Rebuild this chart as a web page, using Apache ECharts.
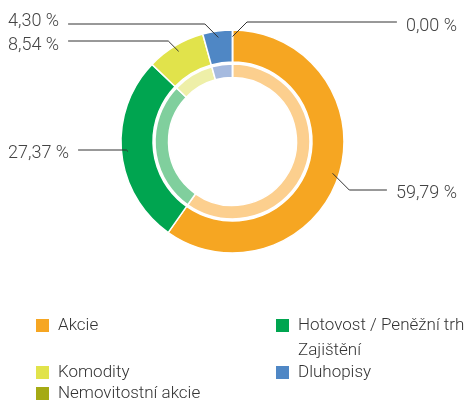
<!DOCTYPE html>
<html>
<head>
<meta charset="utf-8">
<script src="https://cdn.jsdelivr.net/npm/echarts@6/dist/echarts.min.js"></script>
<style>
html, body { margin: 0; padding: 0; background: #fff; }
#main { width: 468px; height: 401px; }
</style>
</head>
<body>
<div id="main"></div>
<script>
var categories = ['Akcie', 'Hotovost / Peněžní trh\nZajištění', 'Komodity', 'Dluhopisy', 'Nemovitostní akcie'];
var shares = [59.79, 27.37, 8.54, 4.30, 0.00];
var colors = ['#F6A622', '#00A550', '#E1E34B', '#4F87C5', '#A5AA14'];
var lightColors = ['#FCCF8E', '#80CF9D', '#EEEFA8', '#A5BADF', '#D2D48A'];

// where each percentage label sits
var labelRight = [true, false, false, false, true];
var labelLineY = [190, 150, 41, 24, 22];
var labelTextY = [193, 153, 45, 21, 26];

var font = "Roboto, 'Liberation Sans', sans-serif";
var center = [232.5, 141.5];

var chartDom = document.getElementById('main');
var myChart = echarts.init(chartDom);

function pieData(cols) {
    return categories.map(function (name, i) {
        return { name: name, value: shares[i], itemStyle: { color: cols[i] } };
    });
}

var legendText = {
    fontFamily: font,
    fontSize: 17,
    fontWeight: 300,
    lineHeight: 20,
    color: '#333',
    padding: [0, 0, 0, 3]
};
var legendBase = {
    orient: 'vertical',
    icon: 'rect',
    itemWidth: 15,
    itemHeight: 15,
    itemGap: 1,
    padding: 0,
    height: 80,
    selectedMode: false,
    textStyle: legendText
};

var option = {
    backgroundColor: '#fff',
    animation: false,
    legend: [
        Object.assign({}, legendBase, { left: 34, top: 315.5, data: [categories[0]] }),
        Object.assign({}, legendBase, { left: 34, top: 362.5, data: [categories[2], categories[4]] }),
        Object.assign({}, legendBase, {
            left: 274, top: 288, data: [categories[1]],
            formatter: function (name) { return '\n' + name; },
            textStyle: Object.assign({}, legendText, { lineHeight: 25 })
        }),
        Object.assign({}, legendBase, { left: 274, top: 362.5, data: [categories[3]] })
    ],
    series: [{
        // outer ring
        type: 'pie',
        center: center,
        radius: [79.5, 111.5],
        startAngle: 90,
        clockwise: true,
        data: pieData(colors),
        itemStyle: { borderColor: '#fff', borderWidth: 1.5 },
        emphasis: { disabled: true },
        label: { show: false },
        labelLine: { show: false }
    }, {
        // inner ring
        type: 'pie',
        center: center,
        radius: [64, 77.5],
        startAngle: 90,
        clockwise: true,
        silent: true,
        data: pieData(lightColors),
        itemStyle: { borderColor: '#fff', borderWidth: 1.5 },
        label: { show: false },
        labelLine: { show: false },
        emphasis: { disabled: true }
    }, {
        // labels on top of the outer ring
        type: 'pie',
        z: 5,
        center: center,
        radius: [79.5, 111.5],
        startAngle: 90,
        clockwise: true,
        silent: true,
        data: pieData(['rgba(0,0,0,0)', 'rgba(0,0,0,0)', 'rgba(0,0,0,0)', 'rgba(0,0,0,0)', 'rgba(0,0,0,0)']),
        emphasis: { disabled: true },
        label: {
            show: true,
            position: 'outside',
            overflow: 'none',
            fontFamily: font,
            fontSize: 18,
            fontWeight: 300,
            color: '#444',
            formatter: function (p) {
                return p.value.toFixed(2).replace('.', ',') + ' %';
            }
        },
        labelLine: { show: true, lineStyle: { color: '#333', width: 1 } },
        labelLayout: function (params) {
            var i = params.dataIndex;
            var pts = params.labelLinePoints;
            if (!pts) return {};
            var dx = pts[0][0] - center[0];
            var dy = pts[0][1] - center[1];
            var k = 105 / Math.sqrt(dx * dx + dy * dy);
            var sx = center[0] + dx * k;
            var sy = center[1] + dy * k;
            var right = labelRight[i];
            var ly = labelLineY[i];
            var ex = sx + (right ? 1 : -1) * Math.abs(ly - sy);
            var w = params.labelRect.width;
            var tx = right ? 457 : 8;
            var endX = right ? tx - w - 9 : tx + w + 9;
            return {
                x: tx,
                y: labelTextY[i],
                align: right ? 'right' : 'left',
                verticalAlign: 'middle',
                labelLinePoints: [[sx, sy], [ex, ly], [endX, ly]]
            };
        }
    }]
};

option && myChart.setOption(option);
</script>
</body>
</html>
